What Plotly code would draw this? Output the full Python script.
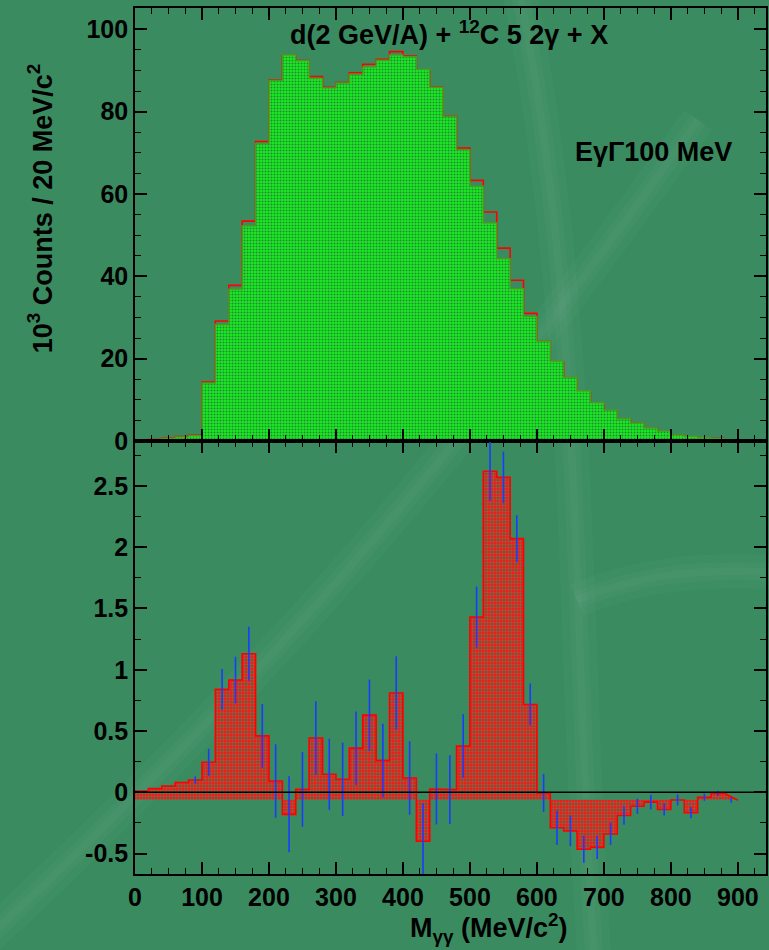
import plotly.graph_objects as go

# ---------------- data ----------------
bin_width = 20
# top panel: green (mixed/background) histogram, 10^3 counts per 20 MeV, bins 0..880
green_counts = [0.1, 0.4, 0.7, 1.0, 1.3,
                14.1, 28.3, 36.9, 52.3, 72.3, 87.6, 93.8, 92.4, 88.1, 85.8,
                87.0, 89.1, 90.9, 92.5, 93.8, 93.4, 90.3, 85.9, 78.9, 70.8,
                61.9, 53.0, 44.3, 37.0, 30.3, 24.3, 19.4, 15.5, 12.2, 9.3,
                7.5, 5.4, 4.4, 3.2, 2.4, 1.5, 1.1, 0.8, 0.6]
# bottom panel: difference (10^3 counts), bins 0..900
diff_counts = [0.01, 0.03, 0.05, 0.08, 0.10,
               0.245, 0.84, 0.916, 1.13, 0.46, 0.092, -0.18, 0.024, 0.443, 0.147,
               0.106, 0.36, 0.63, 0.26, 0.81, 0.117, -0.40, 0.027, 0.022, 0.378,
               1.43, 2.62, 2.57, 2.07, 0.717, -0.005, -0.29, -0.315, -0.465, -0.45,
               -0.34, -0.19, -0.114, -0.08, -0.14, -0.063, -0.166, -0.04, -0.008, -0.065]
diff_errors = [0, 0, 0, 0, 0.03,
               0.11, 0.166, 0.19, 0.22, 0.26, 0.30, 0.31, 0.305, 0.30, 0.29,
               0.30, 0.30, 0.29, 0.30, 0.30, 0.30, 0.31, 0.29, 0.28, 0.26,
               0.25, 0.24, 0.21, 0.19, 0.17, 0.155, 0.14, 0.125, 0.11, 0.095,
               0.09, 0.075, 0.062, 0.06, 0.05, 0.045, 0.045, 0.03, 0.02, 0.02]
fill_base = -0.06   # baseline used by the hatched fill in the lower pad

x_ticks = [0, 100, 200, 300, 400, 500, 600, 700, 800, 900]
y2_ticks = [-0.5, 0, 0.5, 1, 1.5, 2, 2.5]
y2_ticklabels = ['-0.5', '0', '0.5', '1', '1.5', '2', '2.5']

# red (data) histogram = green + difference
red_counts = [g + d for g, d in zip(green_counts, diff_counts)]


def step_path(values, base, diagonal_end=False):
    xs, ys = [0], [base]
    n = len(values)
    for i, v in enumerate(values):
        lo, hi = i * bin_width, (i + 1) * bin_width
        if not (diagonal_end and i == n - 1):
            xs.append(lo); ys.append(v)
        xs.append(hi); ys.append(v)
    xs.append(n * bin_width); ys.append(base)
    return xs, ys


FONT = 'Liberation Sans'
fig = go.Figure()

# ---- top panel ----
rx, ry = step_path(red_counts, 0)
fig.add_trace(go.Scatter(x=rx, y=ry, mode='lines', line=dict(color='#ff0000', width=1.6),
                         xaxis='x', yaxis='y', showlegend=False, hoverinfo='skip'))
gx, gy = step_path(green_counts, 0)
fig.add_trace(go.Scatter(x=gx, y=gy, mode='lines', fill='toself',
                         line=dict(color='#4f9a1c', width=1.3),
                         fillcolor='#12e81a',
                         fillpattern=dict(shape='.', fgcolor='#2f8040', bgcolor='#14ee1c',
                                          size=3, solidity=0.35, fillmode='replace'),
                         xaxis='x', yaxis='y', showlegend=False, hoverinfo='skip'))

# ---- bottom panel ----
dx, dy = step_path(diff_counts, fill_base, diagonal_end=True)
fig.add_trace(go.Scatter(x=dx, y=dy, mode='lines', fill='toself',
                         line=dict(color='rgba(0,0,0,0)', width=0),
                         fillcolor='#ff1a1a',
                         fillpattern=dict(shape='.', fgcolor='#3a8a5c', bgcolor='#ff1414',
                                          size=3, solidity=0.4, fillmode='replace'),
                         xaxis='x2', yaxis='y2', showlegend=False, hoverinfo='skip'))
fig.add_trace(go.Scatter(x=dx[1:-1], y=dy[1:-1], mode='lines', line=dict(color='#ff0000', width=1.6),
                         xaxis='x2', yaxis='y2', showlegend=False, hoverinfo='skip'))

centers = [(i + 0.5) * bin_width for i in range(len(diff_counts))]
ex = [c for c, e in zip(centers, diff_errors) if e > 0]
ey = [v for v, e in zip(diff_counts, diff_errors) if e > 0]
ee = [e for e in diff_errors if e > 0]
fig.add_trace(go.Scatter(x=ex, y=ey, mode='markers', marker=dict(size=0.1, color='#1030ff', opacity=0),
                         error_y=dict(type='data', array=ee, visible=True, color='#1a3cff',
                                      thickness=1.6, width=0),
                         xaxis='x2', yaxis='y2', showlegend=False, hoverinfo='skip'))

# zero line over the fill
fig.add_shape(type='line', xref='x2 domain', yref='y2', x0=0, x1=1, y0=0, y1=0,
              line=dict(color='black', width=1.6), layer='above')

tickfont = dict(family=FONT, size=25, color='black', weight='bold')
axis_common = dict(showline=True, linecolor='black', linewidth=1.6, mirror='allticks',
                   ticks='inside', tickcolor='black', tickwidth=1.5, ticklen=12,
                   showgrid=False, zeroline=False)

fig.update_layout(
    width=769, height=950,
    margin=dict(l=135, r=1, t=8, b=76),
    paper_bgcolor='#3a8c60', plot_bgcolor='rgba(0,0,0,0)',
    xaxis=dict(domain=[0, 1], anchor='y', range=[0, 942], tickvals=x_ticks, showticklabels=False,
               minor=dict(ticks='inside', ticklen=6, tickcolor='black', tickwidth=1.2, dtick=25, tick0=0),
               **axis_common),
    yaxis=dict(domain=[0.5, 1], anchor='x', range=[0, 105.2], tickmode='linear', tick0=0, dtick=20,
               tickfont=tickfont,
               minor=dict(ticks='inside', ticklen=6, tickcolor='black', tickwidth=1.2, dtick=5, tick0=0),
               **axis_common),
    xaxis2=dict(domain=[0, 1], anchor='y2', range=[0, 942], matches='x', tickvals=x_ticks,
                ticktext=[str(v) for v in x_ticks], tickfont=tickfont,
                minor=dict(ticks='inside', ticklen=6, tickcolor='black', tickwidth=1.2, dtick=25, tick0=0),
                **axis_common),
    yaxis2=dict(domain=[0, 0.5], anchor='x2', range=[-0.667, 2.867], tickvals=y2_ticks,
                ticktext=y2_ticklabels, tickfont=tickfont,
                minor=dict(ticks='inside', ticklen=6, tickcolor='black', tickwidth=1.2, dtick=0.25, tick0=0),
                **axis_common),
)

W, H, L, T = 633.0, 866.0, 135.0, 8.0


def px(xp, yp):
    return (xp - L) / W, (T + H - yp) / H


# faint, soft light streaks of the slide background (running off the page)
streaks = [
    [(-80, 1000), (250, 700), (450, 470), (700, 120)],
    [(510, -60), (590, 300), (570, 620), (600, 1020)],
    [(578, 600), (640, 575), (700, 565), (820, 575)],
]
for pts in streaks:
    p = [px(a, b) for a, b in pts]
    path = "M {:.4f},{:.4f} C {:.4f},{:.4f} {:.4f},{:.4f} {:.4f},{:.4f}".format(
        p[0][0], p[0][1], p[1][0], p[1][1], p[2][0], p[2][1], p[3][0], p[3][1])
    for w, a in ((34, 0.022), (18, 0.025), (8, 0.025)):
        fig.add_shape(type='path', path=path, xref='paper', yref='paper', layer='below',
                      line=dict(color='rgba(255,255,255,{})'.format(a), width=w))

ann_font = dict(family=FONT, size=27, color='black', weight='bold')
annots = [
    ("d(2 GeV/A) + <sup>12</sup>C 5 2γ + X", 450, 33, 0),
    ("EγΓ100 MeV", 655, 152, 0),
    ("M<sub>γγ</sub> (MeV/c<sup>2</sup>)", 490, 928, 0),
    ("10<sup>3</sup> Counts / 20 MeV/c<sup>2</sup>", 40, 208, -90),
]
for text, xp, yp, ang in annots:
    ax, ay = px(xp, yp)
    fig.add_annotation(text=text, xref='paper', yref='paper', x=ax, y=ay, showarrow=False,
                       xanchor='center', yanchor='middle', textangle=ang, font=ann_font)

sx, sy = px(0, 958)
fig.add_annotation(text="S", xref='paper', yref='paper', x=sx, y=sy, showarrow=False,
                   xanchor='left', yanchor='middle',
                   font=dict(family='Liberation Serif', size=30, color='black'))

fig.write_html("out.html")
